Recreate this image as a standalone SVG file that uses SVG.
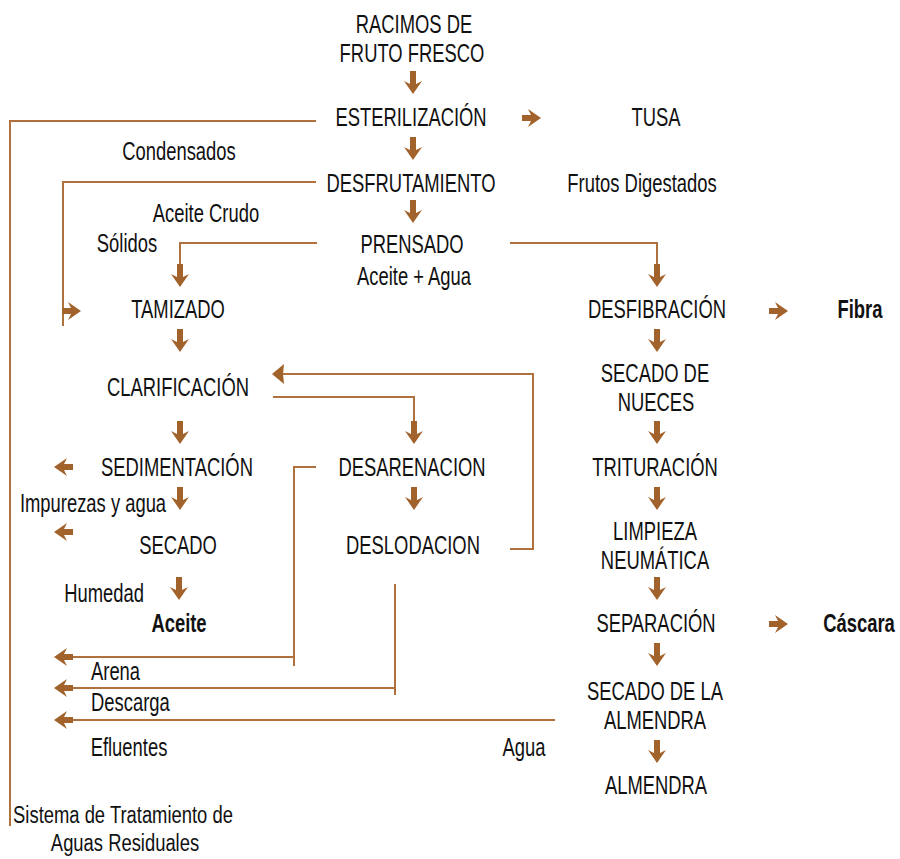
<svg xmlns="http://www.w3.org/2000/svg" xmlns:xlink="http://www.w3.org/1999/xlink" width="900" height="859" viewBox="0 0 900 859">
<style>
.t{font-family:"Liberation Sans",Arial,sans-serif;font-size:18.4px;fill:#111;text-anchor:middle}
.l{text-anchor:start}
.b{font-weight:bold}
.ln{fill:none;stroke:#b0713d;stroke-width:2}
.ar{fill:#a2622c}
</style>
<defs>
<path id="ad" class="ar" d="M0,0 L9,-13 L3,-10 L3,-23 L-3,-23 L-3,-10 L-9,-13 Z"/>
<path id="arr" class="ar" d="M0,0 L-13,-9 L-10,-3 L-19,-3 L-19,3 L-10,3 L-13,9 Z"/>
<path id="al" class="ar" d="M0,0 L13,-9 L10,-3 L19,-3 L19,3 L10,3 L13,9 Z"/>
</defs>
<rect width="900" height="859" fill="#fff"/>

<g id="connectors">
<polyline class="ln" points="316,121 10,121 10,826"/>
<polyline class="ln" points="316,182 63,182 63,326"/>
<line class="ln" x1="63" y1="311" x2="70" y2="311"/>
<polyline class="ln" points="317,243 180,243 180,266"/>
<polyline class="ln" points="510,243 657,243 657,266"/>
<polyline class="ln" points="273,397 414,397 414,421"/>
<polyline class="ln" points="510,549 533,549 533,374 282,374"/>
<polyline class="ln" points="316,467 294,467 294,666"/>
<line class="ln" x1="294" y1="657" x2="68" y2="657"/>
<line class="ln" x1="395" y1="584" x2="395" y2="695"/>
<line class="ln" x1="395" y1="688" x2="68" y2="688"/>
<line class="ln" x1="555" y1="720" x2="68" y2="720"/>
<use href="#ad" x="413" y="94"/>
<use href="#ad" x="413" y="160"/>
<use href="#ad" x="413" y="223"/>
<use href="#ad" x="180" y="287"/>
<use href="#ad" x="657" y="287"/>
<use href="#ad" x="180" y="352"/>
<use href="#ad" x="657" y="352"/>
<use href="#ad" x="180" y="444"/>
<use href="#ad" x="414" y="444"/>
<use href="#ad" x="657" y="444"/>
<use href="#ad" x="180" y="510"/>
<use href="#ad" x="414" y="510"/>
<use href="#ad" x="657" y="510"/>
<use href="#ad" x="179" y="600"/>
<use href="#ad" x="657" y="600"/>
<use href="#ad" x="657" y="666"/>
<use href="#ad" x="657" y="763"/>
<use href="#arr" x="541" y="118"/>
<use href="#arr" x="788" y="311"/>
<use href="#arr" x="788" y="624"/>
<use href="#arr" x="81" y="311"/>
<use href="#al" x="54" y="467"/>
<use href="#al" x="54" y="532"/>
<use href="#al" x="54" y="657"/>
<use href="#al" x="54" y="688"/>
<use href="#al" x="54" y="720"/>
<path class="ar" d="M272,374 L284,364 L283,374 L284,384 Z"/>
</g>

<g id="n-racimos"><text class="t" transform="translate(414,33) scale(1,1.36)">RACIMOS DE</text><text class="t" transform="translate(412,62) scale(1,1.36)">FRUTO FRESCO</text></g>
<g id="n-esterilizacion"><text class="t" transform="translate(411,126) scale(1,1.36)">ESTERILIZACIÓN</text></g>
<g id="n-tusa"><text class="t" transform="translate(656,126) scale(1,1.36)">TUSA</text></g>
<g id="n-condensados"><text class="t" transform="translate(179,160) scale(1,1.36)">Condensados</text></g>
<g id="n-desfrutamiento"><text class="t" transform="translate(411,192) scale(1,1.36)">DESFRUTAMIENTO</text></g>
<g id="n-frutos"><text class="t" transform="translate(642,192) scale(1,1.36)">Frutos Digestados</text></g>
<g id="n-aceitecrudo"><text class="t" transform="translate(206,222) scale(1,1.36)">Aceite Crudo</text></g>
<g id="n-solidos"><text class="t" transform="translate(127,252) scale(1,1.36)">Sólidos</text></g>
<g id="n-prensado"><text class="t" transform="translate(412,253) scale(1,1.36)">PRENSADO</text></g>
<g id="n-aceiteagua"><text class="t" transform="translate(414,285) scale(1,1.36)">Aceite + Agua</text></g>
<g id="n-tamizado"><text class="t" transform="translate(178,318) scale(1,1.36)">TAMIZADO</text></g>
<g id="n-desfibracion"><text class="t" transform="translate(657,318) scale(1,1.36)">DESFIBRACIÓN</text></g>
<g id="n-fibra"><text class="t b" transform="translate(860,318) scale(1,1.36)">Fibra</text></g>
<g id="n-clarificacion"><text class="t" transform="translate(178,396) scale(1,1.36)">CLARIFICACIÓN</text></g>
<g id="n-secadonueces"><text class="t" transform="translate(655,382) scale(1,1.36)">SECADO DE</text><text class="t" transform="translate(656,411) scale(1,1.36)">NUECES</text></g>
<g id="n-sedimentacion"><text class="t" transform="translate(177,476) scale(1,1.36)">SEDIMENTACIÓN</text></g>
<g id="n-desarenacion"><text class="t" transform="translate(412,476) scale(1,1.36)">DESARENACION</text></g>
<g id="n-trituracion"><text class="t" transform="translate(655,476) scale(1,1.36)">TRITURACIÓN</text></g>
<g id="n-impurezas"><text class="t" transform="translate(93,512) scale(1,1.36)">Impurezas y agua</text></g>
<g id="n-limpieza"><text class="t" transform="translate(655,540) scale(1,1.36)">LIMPIEZA</text><text class="t" transform="translate(655,569) scale(1,1.36)">NEUMÁTICA</text></g>
<g id="n-secado"><text class="t" transform="translate(178,554) scale(1,1.36)">SECADO</text></g>
<g id="n-deslodacion"><text class="t" transform="translate(413,554) scale(1,1.36)">DESLODACION</text></g>
<g id="n-humedad"><text class="t" transform="translate(104,602) scale(1,1.36)">Humedad</text></g>
<g id="n-aceite"><text class="t b" transform="translate(179,632) scale(1,1.36)">Aceite</text></g>
<g id="n-separacion"><text class="t" transform="translate(656,632) scale(1,1.36)">SEPARACIÓN</text></g>
<g id="n-cascara"><text class="t b" transform="translate(859,632) scale(1,1.36)">Cáscara</text></g>
<g id="n-arena"><text class="t l" transform="translate(91,680) scale(1,1.36)">Arena</text></g>
<g id="n-secadoalmendra"><text class="t" transform="translate(655,700) scale(1,1.36)">SECADO DE LA</text><text class="t" transform="translate(655,729) scale(1,1.36)">ALMENDRA</text></g>
<g id="n-descarga"><text class="t l" transform="translate(91,711) scale(1,1.36)">Descarga</text></g>
<g id="n-efluentes"><text class="t" transform="translate(129,756) scale(1,1.36)">Efluentes</text></g>
<g id="n-agua"><text class="t" transform="translate(524,756) scale(1,1.36)">Agua</text></g>
<g id="n-almendra"><text class="t" transform="translate(656,794) scale(1,1.36)">ALMENDRA</text></g>
<g id="n-sistema"><text class="t" transform="translate(123,823) scale(1,1.28)">Sistema de Tratamiento de</text><text class="t" transform="translate(125,851) scale(1,1.28)">Aguas Residuales</text></g>
</svg>
